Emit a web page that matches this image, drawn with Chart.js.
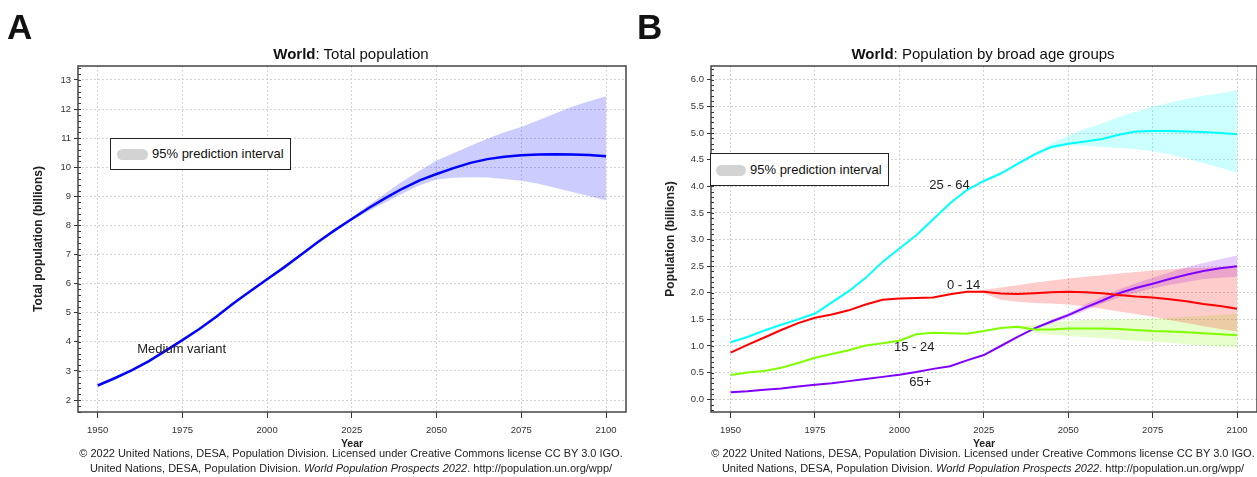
<!DOCTYPE html>
<html><head><meta charset="utf-8">
<script src="https://cdn.jsdelivr.net/npm/chart.js@4.4.1/dist/chart.umd.min.js"></script>
<style>
body{margin:0;background:#fff;width:1257px;height:477px;position:relative;overflow:hidden;font-family:"Liberation Sans",Arial,sans-serif;color:#111;}
.lab{position:absolute;font-weight:bold;font-size:35px;line-height:35px;}
.title{position:absolute;font-size:15px;line-height:17px;text-align:center;width:500px;color:#111;}
.foot{position:absolute;font-size:11px;line-height:13px;text-align:center;width:620px;color:#222;white-space:nowrap;}
.legend{position:absolute;border:1px solid #222;background:#fff;font-size:13px;line-height:15px;box-sizing:border-box;}
.legend .pill{position:absolute;background:#d3d3d3;border-radius:6px;}
.legend span{position:absolute;white-space:nowrap;}
canvas{position:absolute;top:0;}
</style></head>
<body>
<canvas id="cA" width="630" height="453" style="left:0"></canvas>
<canvas id="cB" width="627" height="453" style="left:630px"></canvas>
<div class="lab" style="left:7px;top:9px">A</div>
<div class="lab" style="left:637px;top:9px">B</div>
<div class="title" style="left:101px;top:45px"><b>World</b>: Total population</div>
<div class="title" style="left:733px;top:45px"><b>World</b>: Population by broad age groups</div>
<div class="legend" style="left:110px;top:138px;width:181px;height:32px"><div class="pill" style="left:6px;top:10px;width:31px;height:11px"></div><span style="left:41px;top:7px">95% prediction interval</span></div>
<div class="legend" style="left:710px;top:153px;width:179px;height:33px"><div class="pill" style="left:5px;top:11px;width:30px;height:11px"></div><span style="left:39px;top:8px">95% prediction interval</span></div>
<div class="foot" style="left:41px;top:447px">© 2022 United Nations, DESA, Population Division. Licensed under Creative Commons license CC BY 3.0 IGO.</div>
<div class="foot" style="left:41px;top:462px">United Nations, DESA, Population Division. <i>World Population Prospects 2022</i>. http://population.un.org/wpp/</div>
<div class="foot" style="left:673px;top:447px">© 2022 United Nations, DESA, Population Division. Licensed under Creative Commons license CC BY 3.0 IGO.</div>
<div class="foot" style="left:673px;top:462px">United Nations, DESA, Population Division. <i>World Population Prospects 2022</i>. http://population.un.org/wpp/</div>
<script>
// ---------- data ----------
const years = [1950,1955,1960,1965,1970,1975,1980,1985,1990,1995,2000,2005,2010,2015,2020,2025,2030,2035,2040,2045,2050,2055,2060,2065,2070,2075,2080,2085,2090,2095,2100];
const bandYears = [2021,2025,2030,2035,2040,2045,2050,2055,2060,2065,2070,2075,2080,2085,2090,2095,2100];
const xTicks = [1950,1975,2000,2025,2050,2075,2100];

// Panel A: total population (billions)
const totalPop = [2.50,2.75,3.02,3.33,3.69,4.06,4.44,4.86,5.32,5.74,6.15,6.56,6.99,7.43,7.84,8.22,8.60,8.95,9.27,9.55,9.77,9.97,10.15,10.28,10.36,10.41,10.44,10.45,10.44,10.42,10.38];
const totalLow = [7.92,8.17,8.50,8.80,9.10,9.38,9.58,9.64,9.66,9.65,9.60,9.54,9.43,9.30,9.15,9.00,8.87];
const totalHigh = [7.92,8.28,8.70,9.12,9.52,9.88,10.23,10.48,10.74,10.98,11.20,11.38,11.62,11.85,12.08,12.27,12.44];
const yTicksA = [2,3,4,5,6,7,8,9,10,11,12,13];

// Panel B: population by broad age groups (billions)
const age0_14 = [0.875,1.02,1.16,1.30,1.43,1.53,1.59,1.67,1.78,1.87,1.89,1.90,1.91,1.97,2.02,2.02,1.985,1.975,1.99,2.01,2.02,2.01,1.99,1.96,1.93,1.91,1.88,1.84,1.79,1.75,1.70];
const age15_24 = [0.456,0.50,0.53,0.59,0.68,0.78,0.85,0.92,1.01,1.05,1.10,1.22,1.25,1.24,1.23,1.28,1.34,1.36,1.31,1.31,1.33,1.33,1.33,1.32,1.30,1.28,1.27,1.26,1.24,1.22,1.20];
const age25_64 = [1.07,1.17,1.29,1.40,1.50,1.61,1.82,2.03,2.28,2.58,2.83,3.08,3.38,3.68,3.93,4.10,4.24,4.42,4.60,4.74,4.80,4.84,4.89,4.97,5.03,5.04,5.04,5.03,5.02,5.00,4.98];
const age65p = [0.13,0.15,0.18,0.20,0.24,0.27,0.30,0.34,0.38,0.42,0.46,0.51,0.57,0.62,0.73,0.83,1.00,1.17,1.33,1.46,1.58,1.72,1.85,1.99,2.09,2.17,2.26,2.34,2.41,2.46,2.50];
const low0_14 = [2.02,1.99,1.87,1.83,1.81,1.80,1.78,1.74,1.70,1.65,1.60,1.55,1.49,1.43,1.37,1.32,1.27];
const high0_14 = [2.02,2.05,2.10,2.14,2.19,2.23,2.27,2.30,2.33,2.36,2.39,2.42,2.44,2.46,2.47,2.48,2.48];
const low15_24 = [1.24,1.27,1.33,1.33,1.25,1.21,1.19,1.17,1.15,1.12,1.10,1.08,1.06,1.03,1.01,0.99,0.97];
const high15_24 = [1.24,1.29,1.35,1.38,1.40,1.44,1.47,1.49,1.50,1.50,1.51,1.51,1.53,1.55,1.57,1.59,1.61];
const low25_64 = [3.96,4.09,4.22,4.40,4.56,4.70,4.77,4.76,4.74,4.72,4.70,4.66,4.60,4.52,4.44,4.35,4.26];
const high25_64 = [3.96,4.11,4.26,4.45,4.62,4.80,4.95,5.08,5.18,5.30,5.40,5.50,5.57,5.64,5.70,5.75,5.80];
const low65p = [0.75,0.83,0.99,1.16,1.31,1.42,1.54,1.66,1.80,1.91,2.00,2.08,2.15,2.20,2.26,2.28,2.30];
const high65p = [0.75,0.83,1.01,1.18,1.35,1.49,1.62,1.78,1.92,2.06,2.18,2.28,2.38,2.48,2.56,2.63,2.70];
const yTicksB = [0,0.5,1,1.5,2,2.5,3,3.5,4,4.5,5,5.5,6];

// ---------- helpers ----------
const FONT = '"Liberation Sans", Arial, sans-serif';
const pts = (xs, ys) => xs.map((x, i) => ({x, y: ys[i]}));
const lineDS = (data, color, w) => ({data, borderColor: color, borderWidth: w, pointRadius: 0, fill: false, tension: 0, order: 0});
const lowDS = (data) => ({data, borderWidth: 0, borderColor: 'rgba(0,0,0,0)', pointRadius: 0, fill: false, order: 1});
const highDS = (data, color) => ({data, borderWidth: 0, borderColor: 'rgba(0,0,0,0)', backgroundColor: color, pointRadius: 0, fill: '-1', order: 1});

const framePlugin = {
  id: 'frame',
  afterDatasetsDraw(chart, args, opts) {
    const {ctx, chartArea: a, scales: {x, y}} = chart;
    ctx.save();
    ctx.strokeStyle = '#333'; ctx.lineWidth = 1;
    ctx.beginPath();
    for (let v = Math.ceil(y.min / opts.minor) * opts.minor; v <= y.max; v += opts.minor) {
      const py = Math.round(y.getPixelForValue(v)) + 0.5;
      ctx.moveTo(a.left, py); ctx.lineTo(a.left + 3, py);
    }
    ctx.stroke();
    ctx.strokeStyle = '#444'; ctx.lineWidth = 1.5;
    ctx.strokeRect(a.left, a.top, a.right - a.left, a.bottom - a.top);
    ctx.fillStyle = '#222'; ctx.font = '13px ' + FONT;
    ctx.textAlign = 'center'; ctx.textBaseline = 'middle';
    for (const t of opts.labels) ctx.fillText(t.text, x.getPixelForValue(t.x), y.getPixelForValue(t.y));
    ctx.restore();
  }
};

function makeOptions(cfg) {
  return {
    responsive: false, animation: false, devicePixelRatio: 1,
    layout: {padding: {left: cfg.padLeft, right: cfg.padRight, top: 66, bottom: 0}},
    plugins: {legend: {display: false}, tooltip: {enabled: false}, title: {display: false},
      frame: {minor: cfg.minor, labels: cfg.labels}},
    scales: {
      x: {type: 'linear', min: 1944.2, max: 2105.9,
        afterBuildTicks: s => { s.ticks = xTicks.map(v => ({value: v})); },
        afterFit: s => { s.height = 41; },
        ticks: {font: {size: 9.5, family: FONT}, color: '#333', padding: 7, maxRotation: 0, callback: v => String(v)},
        grid: {color: '#d4d4d4', lineWidth: 1, tickColor: '#333', tickLength: 6, tickWidth: 1},
        border: {display: false, dash: [2, 2]},
        title: {display: true, text: 'Year', font: {size: 10.5, weight: 'bold', family: FONT}, color: '#222', padding: {top: 0, bottom: 3}}
      },
      y: {type: 'linear', min: cfg.ymin, max: cfg.ymax,
        afterBuildTicks: s => { s.ticks = cfg.yTicks.map(v => ({value: v})); },
        afterFit: s => { s.width = cfg.yWidth; },
        ticks: {font: {size: 9.5, family: FONT}, color: '#333', padding: 3, callback: cfg.fmt},
        grid: {color: '#d4d4d4', lineWidth: 1, tickColor: '#333', tickLength: 4, tickWidth: 1},
        border: {display: false, dash: [2, 2]},
        title: {display: true, text: cfg.yTitle, font: {size: 12, weight: 'bold', family: FONT}, color: '#222', padding: {top: 3, bottom: 4}}
      }
    }
  };
}

new Chart(document.getElementById('cA'), {
  type: 'line',
  data: {datasets: [
    lineDS(pts(years, totalPop), '#0000ff', 2.5),
    lowDS(pts(bandYears, totalLow)),
    highDS(pts(bandYears, totalHigh), 'rgba(0,0,255,0.2)')
  ]},
  options: makeOptions({padLeft: 28, padRight: 4, ymin: 1.59, ymax: 13.48, yTicks: yTicksA, yWidth: 50,
    yTitle: 'Total population (billions)', fmt: v => String(v), minor: 0.2,
    labels: [{text: 'Medium variant', x: 1974.8, y: 3.75}]}),
  plugins: [framePlugin]
});

new Chart(document.getElementById('cB'), {
  type: 'line',
  data: {datasets: [
    lineDS(pts(years, age25_64), '#00ffff', 2),
    lineDS(pts(years, age0_14), '#ff0000', 2),
    lineDS(pts(years, age15_24), '#80ff00', 2),
    lineDS(pts(years, age65p), '#8000ff', 2),
    lowDS(pts(bandYears, low25_64)),
    highDS(pts(bandYears, high25_64), 'rgba(0,255,255,0.2)'),
    lowDS(pts(bandYears, low0_14)),
    highDS(pts(bandYears, high0_14), 'rgba(255,0,0,0.2)'),
    lowDS(pts(bandYears, low15_24)),
    highDS(pts(bandYears, high15_24), 'rgba(128,255,0,0.2)'),
    lowDS(pts(bandYears, low65p)),
    highDS(pts(bandYears, high65p), 'rgba(128,0,255,0.2)')
  ]},
  options: makeOptions({padLeft: 30, padRight: 0, ymin: -0.24, ymax: 6.26, yTicks: yTicksB, yWidth: 51,
    yTitle: 'Population (billions)', fmt: v => v.toFixed(1), minor: 0.1,
    labels: [{text: '25 - 64', x: 2014.8, y: 4.01}, {text: '0 - 14', x: 2019, y: 2.14},
             {text: '15 - 24', x: 2004.4, y: 0.98}, {text: '65+', x: 2006.2, y: 0.31}]}),
  plugins: [framePlugin]
});
</script>
</body></html>
